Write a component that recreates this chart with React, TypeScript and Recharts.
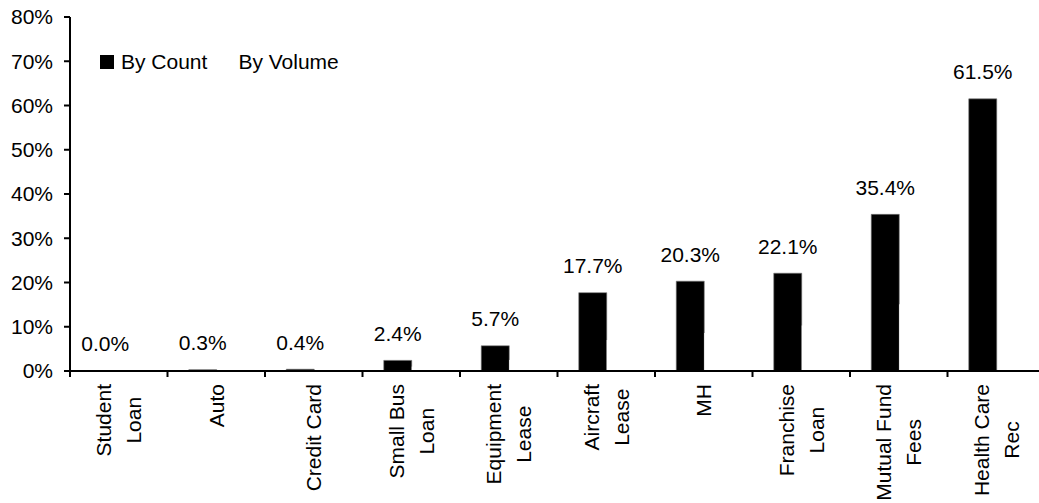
import React from 'react';
import { BarChart, Bar, XAxis, YAxis, Legend, LabelList } from 'recharts';

const categories = ['Student Loan', 'Auto', 'Credit Card', 'Small Bus Loan', 'Equipment Lease', 'Aircraft Lease', 'MH', 'Franchise Loan', 'Mutual Fund Fees', 'Health Care Rec'];
const labelLines = [['Student', 'Loan'], ['Auto'], ['Credit Card'], ['Small Bus', 'Loan'], ['Equipment', 'Lease'], ['Aircraft', 'Lease'], ['MH'], ['Franchise', 'Loan'], ['Mutual Fund', 'Fees'], ['Health Care', 'Rec']];
const byCount = [0.0, 0.3, 0.4, 2.4, 5.7, 17.7, 20.3, 22.1, 35.4, 61.5];
const byVolume = [0.0, 0.1, 0.2, 1.0, 2.5, 7.0, 8.6, 10.3, 15.1, 0.0];
const yTicks = [0, 10, 20, 30, 40, 50, 60, 70, 80];

const data = categories.map((c, i) => ({ name: c, count: byCount[i], volume: byVolume[i], idx: i }));

const FONT = '"Liberation Sans", Arial, sans-serif';
const FS = 21;

let ctx: CanvasRenderingContext2D | null = null;
function measure(t: string): number {
  if (!ctx) {
    const c = document.createElement('canvas');
    ctx = c.getContext('2d');
  }
  if (!ctx) return t.length * FS * 0.5;
  ctx.font = `${FS}px "Liberation Sans", Arial, sans-serif`;
  return ctx.measureText(t).width;
}

const XTick = (props: any) => {
  const { x, y, payload, index, width } = props;
  const half = width ? width / categories.length / 2 : 48.75;
  const i = typeof payload?.index === 'number' ? payload.index : index;
  const lines = labelLines[i] || [String(payload.value)];
  const maxW = Math.max(...lines.map(measure));
  const yc = y + 13 + maxW / 2;
  const n = lines.length;
  return (
    <g>
      <line x1={x - half} x2={x - half} y1={y} y2={y + 6} stroke="#000" strokeWidth={2} />
      {lines.map((l, k) => {
        const xl = x + (k - (n - 1) / 2) * 30;
        return (
          <text key={k} x={xl} y={yc} transform={`rotate(-90 ${xl} ${yc})`} textAnchor="middle" dominantBaseline="central" fill="#000" fontSize={FS} fontFamily={FONT}>
            {l}
          </text>
        );
      })}
    </g>
  );
};

const ValueLabel = (props: any) => {
  const { x, y, width, value } = props;
  const cx = Number(x) + Number(width) / 2;
  return (
    <text x={cx} y={Number(y) - 27} textAnchor="middle" dominantBaseline="central" fill="#000" fontSize={FS} fontFamily={FONT}>
      {`${Number(value).toFixed(1)}%`}
    </text>
  );
};

const LegendContent = () => (
  <div style={{ display: 'flex', alignItems: 'center', fontFamily: FONT, fontSize: FS, color: '#000', whiteSpace: 'nowrap', lineHeight: 'normal' }}>
    <span style={{ display: 'inline-block', width: 14, height: 14, background: '#000', marginRight: 7 }} />
    <span>By Count</span>
    <span style={{ display: 'inline-block', width: 14, height: 14, background: '#fff', marginLeft: 10, marginRight: 7 }} />
    <span>By Volume</span>
  </div>
);

export default function App() {
  return (
    <div style={{ position: 'absolute', left: 0, top: 0, width: 1039, height: 503, overflow: 'hidden', background: '#fff' }}>
      <BarChart width={1046} height={503} data={data} margin={{ top: 17, right: 1, bottom: 0, left: 0 }} barCategoryGap={21.25} barGap={0} style={{ fontFamily: FONT }}>
        <XAxis dataKey="name" interval={0} tickLine={false} tickSize={0} tickMargin={0} height={132} axisLine={{ stroke: '#000', strokeWidth: 2 }} tick={<XTick />} />
        <YAxis width={70} domain={[0, 80]} ticks={yTicks} interval={0} tickFormatter={(v: number) => `${v}%`} tickSize={6} tickMargin={11} axisLine={{ stroke: '#000', strokeWidth: 2 }} tickLine={{ stroke: '#000', strokeWidth: 2 }} tick={{ fill: '#000', fontSize: FS, fontFamily: FONT }} />
        <Legend layout="horizontal" verticalAlign="middle" align="center" wrapperStyle={{ top: 50, left: 100, width: 'auto', height: 'auto' }} content={<LegendContent />} />
        <Bar dataKey="count" name="By Count" fill="#000" stroke="#777" strokeWidth={0.6} minPointSize={0.01} isAnimationActive={false}>
          <LabelList dataKey="count" content={<ValueLabel />} />
        </Bar>
        <Bar dataKey="volume" name="By Volume" fill="#fff" isAnimationActive={false} />
      </BarChart>
    </div>
  );
}
